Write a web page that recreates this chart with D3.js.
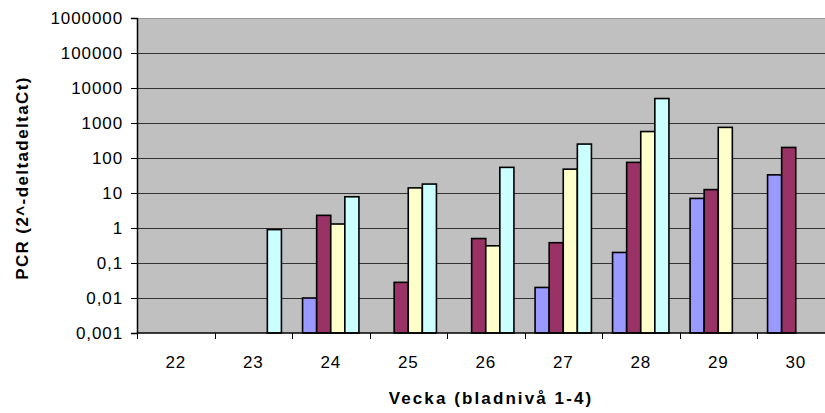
<!DOCTYPE html>
<html><head><meta charset="utf-8">
<script src="https://cdn.jsdelivr.net/npm/d3@7"></script>
<style>
html,body{margin:0;padding:0;background:#fff;}
text{font-family:"Liberation Sans",Arial,sans-serif;}
</style></head>
<body><svg id="c" width="825" height="413"></svg>
<script>
const categories = ["22","23","24","25","26","27","28","29","30"];
const seriesNames = ["S1","S2","S3","S4"];
const seriesColors = ["#9999FF","#993366","#FFFFCC","#CCFFFF"];
const s1 = [null, null, 0.01, null, null, 0.02, 0.2, 7, 33];
const s2 = [null, null, 2.3, 0.028, 0.5, 0.38, 75, 12.5, 200];
const s3 = [null, null, 1.3, 14, 0.31, 48, 570, 750, null];
const s4 = [null, 0.9, 7.8, 18, 54, 250, 5000, null, null];
const seriesValues = [s1, s2, s3, s4];
const yTickValues = [0.001, 0.01, 0.1, 1, 10, 100, 1000, 10000, 100000, 1000000];
const yTickLabels = ["0,001","0,01","0,1","1","10","100","1000","10000","100000","1000000"];

const svg = d3.select("#c");
const pLeft = 137, pTop = 18, pBottom = 333, pRight = 834.5;

const x = d3.scaleBand().domain(categories).range([pLeft, pRight]).padding(0);
const bw = x.bandwidth() / 5.5;
const x1 = d3.scaleBand().domain(seriesNames).range([0.75 * bw, x.bandwidth() - 0.75 * bw]).padding(0);
const y = d3.scaleLog().domain([0.001, 1000000]).range([pBottom, pTop]);

// plot background
svg.append("rect").attr("x", pLeft).attr("y", pTop).attr("width", pRight - pLeft).attr("height", pBottom - pTop)
  .attr("fill", "#C0C0C0");

// gridlines
svg.append("g").selectAll("line").data(yTickValues.slice(1)).join("line")
  .attr("x1", pLeft).attr("x2", pRight)
  .attr("y1", d => Math.round(y(d)) + 0.5).attr("y2", d => Math.round(y(d)) + 0.5)
  .attr("stroke", (d, i) => i === yTickValues.length - 2 ? "#999" : "#333").attr("stroke-width", 1);

// bars
const barData = [];
seriesValues.forEach((vals, si) => {
  vals.forEach((v, ci) => {
    if (v != null) barData.push({ cat: categories[ci], s: seriesNames[si], v: v, color: seriesColors[si] });
  });
});
svg.append("g").selectAll("rect").data(barData).join("rect")
  .attr("x", d => x(d.cat) + x1(d.s))
  .attr("y", d => y(d.v))
  .attr("width", x1.bandwidth())
  .attr("height", d => pBottom - y(d.v))
  .attr("fill", d => d.color)
  .attr("stroke", "#000").attr("stroke-width", 1.6);

// y axis
const yAxis = d3.axisLeft(y).tickValues(yTickValues)
  .tickFormat((d, i) => yTickLabels[i]).tickSize(6).tickPadding(8);
const gy = svg.append("g").attr("transform", `translate(${pLeft},0)`).call(yAxis);
gy.select(".domain").attr("stroke", "#000").attr("stroke-width", 1.5);
gy.selectAll(".tick line").attr("stroke", "#000");
gy.selectAll(".tick text").attr("font-size", 17).attr("letter-spacing", "0.9px")
  .attr("fill", "#000").attr("font-family", "Liberation Sans, Arial, sans-serif");

// x axis with ticks at category boundaries
const gx = svg.append("g").attr("transform", `translate(0,${pBottom})`);
gx.append("line").attr("x1", pLeft).attr("x2", pRight).attr("y1", 0).attr("y2", 0)
  .attr("stroke", "#000").attr("stroke-width", 1.5);
gx.selectAll("line.tk").data(categories).join("line").attr("class", "tk")
  .attr("x1", d => Math.round(x(d)) + 0.5).attr("x2", d => Math.round(x(d)) + 0.5)
  .attr("y1", 0).attr("y2", 6).attr("stroke", "#000");
gx.selectAll("text").data(categories).join("text")
  .attr("x", d => x(d) + x.bandwidth() / 2).attr("y", 35)
  .attr("text-anchor", "middle").attr("font-size", 17).attr("letter-spacing", "0.9px")
  .attr("fill", "#000").text(d => d);

// axis titles
svg.append("text").attr("x", 491).attr("y", 404).attr("text-anchor", "middle")
  .attr("font-size", 17).attr("font-weight", "bold").attr("letter-spacing", "2.1px")
  .text("Vecka (bladnivå 1-4)");
svg.append("text").attr("transform", "translate(28,178) rotate(-90)").attr("text-anchor", "middle")
  .attr("font-size", 17).attr("font-weight", "bold").attr("letter-spacing", "1.4px")
  .text("PCR (2^-deltadeltaCt)");
</script></body></html>
